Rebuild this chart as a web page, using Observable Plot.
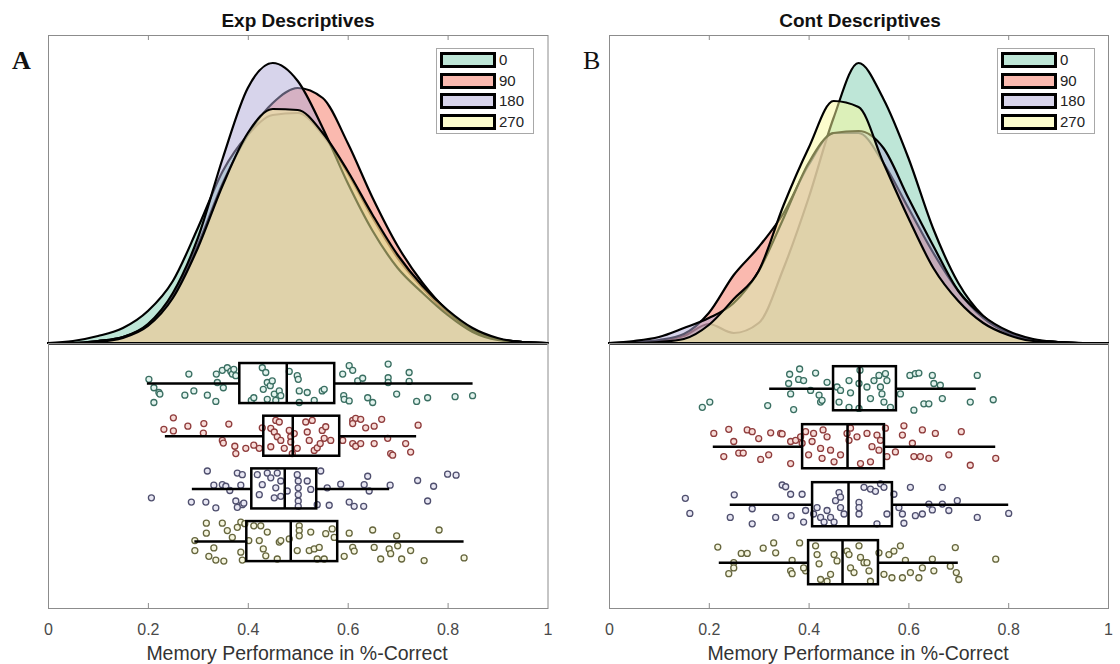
<!DOCTYPE html>
<html>
<head>
<meta charset="utf-8">
<script src="https://cdn.jsdelivr.net/npm/d3@7"></script>
<script src="https://cdn.jsdelivr.net/npm/@observablehq/plot@0.6"></script>
<style>
  body { margin: 0; background: #fff; font-family: "Liberation Sans", Arial, sans-serif; }
  #chart { position: relative; width: 1120px; height: 664px; overflow: hidden; background: #fff; }
  #chart svg { position: absolute; }
  .title { position: absolute; font-weight: bold; font-size: 19px; color: #111; white-space: nowrap; transform: translateX(-50%); line-height: 19px; }
  .xlabel { position: absolute; font-size: 19.5px; color: #333; white-space: nowrap; transform: translateX(-50%); line-height: 19px; }
  .letter { position: absolute; font-family: "Liberation Serif", "DejaVu Serif", serif; font-size: 26px; color: #111; line-height: 26px; }
  .legend { position: absolute; border: 1px solid #a8a8a8; background: #fff; box-sizing: border-box; }
  .legend .row { position: absolute; left: 3px; height: 16px; display: flex; align-items: center; }
  .legend .sw { width: 56px; height: 16px; box-sizing: border-box; border: 3px solid #000; }
  .legend .lab { margin-left: 3px; font-size: 15px; color: #222; line-height: 16px; }
</style>
</head>
<body>
<div id="chart"></div>
<script>
// Conditions (rotation in degrees)
const groups = ["0", "90", "180", "270"];
const xTickValues = [0, 0.2, 0.4, 0.6, 0.8, 1];
const innerTickValues = [0.2, 0.4, 0.6, 0.8];

// Kernel density estimates sampled on a regular grid
const densityGrid = [0, 0.05, 0.1, 0.15, 0.2, 0.25, 0.3, 0.35, 0.4, 0.45, 0.5, 0.55, 0.6, 0.65, 0.7, 0.75, 0.8, 0.85, 0.9, 0.95, 1];

const expDensity0   = [0, 0.02, 0.07, 0.15, 0.32, 0.62, 1.15, 1.72, 2.08, 2.28, 2.30, 2.08, 1.70, 1.25, 0.85, 0.55, 0.30, 0.13, 0.04, 0.01, 0];
const expDensity90  = [0, 0, 0.02, 0.06, 0.18, 0.48, 0.98, 1.60, 2.08, 2.40, 2.55, 2.45, 2.00, 1.45, 0.97, 0.60, 0.32, 0.13, 0.04, 0.01, 0];
const expDensity180 = [0, 0, 0.02, 0.06, 0.19, 0.50, 1.05, 1.85, 2.55, 2.80, 2.62, 2.15, 1.60, 1.12, 0.75, 0.50, 0.28, 0.11, 0.03, 0.01, 0];
const expDensity270 = [0, 0, 0.01, 0.05, 0.17, 0.45, 0.95, 1.58, 2.10, 2.34, 2.33, 2.10, 1.72, 1.28, 0.88, 0.57, 0.33, 0.15, 0.05, 0.01, 0];

const contDensity0   = [0, 0, 0.02, 0.07, 0.19, 0.10, 0.20, 0.75, 1.45, 2.25, 2.80, 2.44, 1.85, 1.14, 0.60, 0.27, 0.11, 0.03, 0.01, 0, 0];
const contDensity90  = [0, 0.01, 0.03, 0.09, 0.30, 0.68, 0.96, 1.30, 1.78, 2.10, 2.10, 1.80, 1.35, 0.90, 0.52, 0.25, 0.10, 0.03, 0.01, 0, 0];
const contDensity180 = [0, 0.02, 0.06, 0.15, 0.25, 0.40, 0.72, 1.25, 1.80, 2.10, 2.12, 1.95, 1.45, 0.97, 0.52, 0.27, 0.12, 0.04, 0.01, 0, 0];
const contDensity270 = [0, 0, 0.01, 0.04, 0.18, 0.44, 0.72, 1.38, 1.95, 2.42, 2.36, 1.80, 1.25, 0.75, 0.42, 0.20, 0.08, 0.02, 0.01, 0, 0];

// Box plot summaries: [lower whisker, Q1, median, Q3, upper whisker]
const expBoxes = [
  [0.198, 0.383, 0.477, 0.573, 0.850],
  [0.234, 0.431, 0.489, 0.583, 0.737],
  [0.288, 0.407, 0.473, 0.537, 0.683],
  [0.293, 0.397, 0.485, 0.579, 0.832]
];
const contBoxes = [
  [0.321, 0.449, 0.501, 0.575, 0.735],
  [0.208, 0.387, 0.477, 0.551, 0.774],
  [0.242, 0.407, 0.479, 0.567, 0.800],
  [0.220, 0.399, 0.467, 0.539, 0.699]
];

// Individual participants: [proportion correct, vertical jitter within the row]
const expDots0 = [[0.201,-0.08],[0.211,0.08],[0.221,0.17],[0.223,0.20],[0.211,0.36],[0.281,-0.18],[0.273,0.22],[0.291,0.14],[0.318,0.22],[0.335,0.34],[0.336,-0.18],[0.338,-0.02],[0.348,-0.25],[0.350,0.08],[0.358,-0.30],[0.365,-0.23],[0.368,-0.18],[0.371,-0.27],[0.375,-0.15],[0.406,0.32],[0.411,0.27],[0.428,-0.30],[0.435,-0.21],[0.430,0.11],[0.438,-0.02],[0.444,0.04],[0.448,-0.05],[0.438,0.30],[0.452,0.20],[0.455,0.32],[0.462,0.14],[0.465,0.23],[0.482,-0.23],[0.498,-0.15],[0.500,-0.08],[0.502,0.14],[0.502,0.36],[0.518,0.17],[0.532,0.32],[0.548,0.14],[0.552,0.11],[0.589,-0.18],[0.591,0.23],[0.602,-0.34],[0.609,-0.25],[0.592,0.30],[0.602,0.33],[0.619,-0.05],[0.629,-0.10],[0.639,0.27],[0.649,0.36],[0.680,-0.37],[0.680,-0.11],[0.680,-0.02],[0.697,0.20],[0.722,-0.21],[0.722,-0.04],[0.737,0.34],[0.759,0.27],[0.814,0.25],[0.849,0.23]];
const expDots90 = [[0.250,-0.35],[0.231,-0.13],[0.250,-0.10],[0.279,-0.19],[0.311,-0.24],[0.310,-0.06],[0.361,-0.23],[0.348,0.08],[0.350,0.13],[0.373,0.19],[0.375,0.33],[0.395,0.23],[0.411,0.17],[0.422,0.23],[0.428,-0.16],[0.445,-0.15],[0.452,-0.08],[0.455,-0.30],[0.462,-0.27],[0.458,0.01],[0.465,0.08],[0.445,0.20],[0.472,0.23],[0.482,-0.11],[0.485,0.01],[0.485,0.11],[0.492,-0.05],[0.488,0.33],[0.498,0.23],[0.515,-0.27],[0.518,-0.08],[0.522,0.08],[0.528,-0.30],[0.532,0.27],[0.538,0.22],[0.544,0.14],[0.548,-0.11],[0.552,0.04],[0.555,-0.18],[0.565,0.08],[0.589,0.08],[0.609,-0.30],[0.615,-0.34],[0.625,-0.32],[0.609,-0.24],[0.609,0.14],[0.615,0.19],[0.625,0.14],[0.635,-0.16],[0.652,-0.19],[0.667,-0.32],[0.652,0.14],[0.679,0.04],[0.685,0.33],[0.689,0.36],[0.715,0.14],[0.725,0.30],[0.740,-0.21]];
const expDots180 = [[0.206,0.17],[0.286,0.25],[0.315,0.25],[0.318,-0.34],[0.335,0.36],[0.331,-0.07],[0.348,-0.08],[0.355,-0.05],[0.363,0.03],[0.375,0.23],[0.378,-0.30],[0.388,-0.27],[0.385,-0.07],[0.388,0.30],[0.378,0.35],[0.391,0.27],[0.418,-0.27],[0.422,0.11],[0.428,-0.08],[0.438,-0.30],[0.445,-0.21],[0.452,0.17],[0.455,-0.02],[0.458,-0.30],[0.465,-0.15],[0.465,0.14],[0.478,0.04],[0.498,-0.27],[0.500,-0.15],[0.500,-0.02],[0.500,0.11],[0.500,0.23],[0.500,0.33],[0.518,-0.15],[0.525,0.01],[0.538,0.30],[0.545,-0.34],[0.558,-0.02],[0.562,0.31],[0.585,-0.09],[0.602,0.25],[0.612,0.33],[0.631,0.33],[0.632,-0.08],[0.639,-0.24],[0.642,0.04],[0.684,-0.07],[0.739,-0.16],[0.759,0.23],[0.771,-0.05],[0.799,-0.28],[0.816,-0.26]];
const expDots270 = [[0.293,-0.02],[0.293,0.17],[0.316,-0.35],[0.316,-0.16],[0.331,0.12],[0.321,0.28],[0.335,0.35],[0.351,0.37],[0.348,-0.35],[0.358,-0.21],[0.368,-0.08],[0.378,-0.27],[0.385,-0.37],[0.385,0.20],[0.388,0.35],[0.393,-0.34],[0.401,-0.02],[0.411,-0.30],[0.422,-0.02],[0.425,-0.30],[0.430,0.14],[0.435,0.27],[0.438,-0.18],[0.458,0.33],[0.462,0.01],[0.465,-0.02],[0.482,-0.05],[0.502,-0.30],[0.502,-0.21],[0.502,-0.11],[0.498,0.17],[0.522,0.17],[0.525,-0.18],[0.532,0.14],[0.538,0.33],[0.542,0.11],[0.552,0.33],[0.555,-0.15],[0.568,-0.24],[0.572,-0.08],[0.592,0.28],[0.602,-0.16],[0.609,0.11],[0.612,0.18],[0.649,-0.22],[0.652,0.11],[0.665,0.33],[0.682,0.14],[0.685,0.23],[0.697,-0.11],[0.699,0.08],[0.707,0.33],[0.725,0.17],[0.752,0.36],[0.782,-0.22],[0.832,0.31]];

const contDots0 = [[0.186,0.32],[0.201,0.23],[0.317,0.29],[0.369,0.36],[0.361,-0.25],[0.359,-0.09],[0.363,0.09],[0.381,-0.34],[0.379,-0.16],[0.389,-0.14],[0.403,0.03],[0.413,-0.27],[0.420,0.11],[0.423,0.23],[0.436,-0.11],[0.426,0.20],[0.456,-0.03],[0.463,0.03],[0.460,0.23],[0.480,-0.14],[0.483,0.07],[0.480,0.32],[0.500,-0.09],[0.502,-0.32],[0.500,0.34],[0.516,-0.03],[0.523,0.17],[0.530,-0.14],[0.540,-0.23],[0.543,-0.03],[0.546,0.09],[0.550,0.23],[0.553,-0.26],[0.556,-0.14],[0.563,0.32],[0.583,0.09],[0.602,-0.23],[0.610,0.37],[0.613,-0.26],[0.620,-0.27],[0.630,0.26],[0.640,0.26],[0.647,-0.23],[0.650,-0.09],[0.663,-0.06],[0.667,0.17],[0.737,-0.23],[0.723,0.23],[0.769,0.19]];
const contDots90 = [[0.209,-0.23],[0.239,-0.30],[0.229,0.17],[0.249,-0.09],[0.259,0.11],[0.268,0.11],[0.276,-0.29],[0.286,-0.26],[0.299,-0.14],[0.303,0.22],[0.319,0.14],[0.323,-0.24],[0.343,-0.23],[0.346,-0.22],[0.363,-0.09],[0.363,0.29],[0.373,-0.11],[0.383,-0.17],[0.386,-0.06],[0.393,-0.26],[0.399,0.14],[0.406,-0.09],[0.409,-0.23],[0.423,0.03],[0.428,-0.29],[0.426,0.20],[0.436,-0.17],[0.443,0.06],[0.450,0.26],[0.463,0.14],[0.476,-0.23],[0.480,-0.11],[0.483,-0.32],[0.496,-0.17],[0.503,0.29],[0.516,-0.23],[0.523,0.26],[0.526,0.00],[0.536,-0.20],[0.540,0.06],[0.543,-0.11],[0.553,-0.32],[0.556,0.17],[0.573,0.09],[0.587,-0.20],[0.590,-0.36],[0.607,-0.06],[0.610,0.17],[0.623,0.17],[0.627,-0.29],[0.640,0.20],[0.653,-0.23],[0.680,0.14],[0.705,-0.26],[0.723,0.32],[0.774,0.20]];
const contDots180 = [[0.152,-0.11],[0.161,0.15],[0.242,0.22],[0.250,-0.17],[0.286,0.07],[0.286,0.33],[0.333,0.22],[0.346,-0.34],[0.353,-0.31],[0.363,-0.18],[0.364,0.19],[0.386,-0.18],[0.389,0.30],[0.393,0.10],[0.409,0.16],[0.416,0.05],[0.423,0.22],[0.430,0.30],[0.436,0.10],[0.443,0.22],[0.450,0.30],[0.453,-0.07],[0.460,-0.21],[0.463,-0.13],[0.463,0.05],[0.470,0.16],[0.500,-0.04],[0.500,0.05],[0.500,0.16],[0.510,-0.30],[0.523,-0.27],[0.533,-0.23],[0.536,0.33],[0.543,-0.36],[0.550,-0.30],[0.556,0.16],[0.570,-0.18],[0.580,0.05],[0.587,0.16],[0.590,0.32],[0.603,-0.30],[0.613,0.19],[0.627,0.16],[0.640,-0.01],[0.647,0.09],[0.667,-0.30],[0.667,-0.01],[0.680,0.10],[0.697,-0.07],[0.737,0.22],[0.800,0.15]];
const contDots270 = [[0.217,-0.27],[0.239,0.19],[0.249,0.00],[0.249,0.09],[0.264,-0.16],[0.276,-0.16],[0.308,-0.25],[0.329,-0.34],[0.333,-0.17],[0.366,-0.04],[0.363,0.14],[0.366,0.19],[0.381,-0.34],[0.393,0.14],[0.389,0.09],[0.413,-0.29],[0.416,-0.14],[0.420,0.02],[0.423,0.29],[0.436,0.32],[0.443,0.20],[0.450,-0.14],[0.456,-0.03],[0.476,-0.20],[0.480,-0.14],[0.483,0.09],[0.490,0.17],[0.500,-0.29],[0.503,-0.09],[0.510,0.00],[0.516,0.00],[0.520,0.14],[0.523,0.32],[0.540,-0.17],[0.550,0.20],[0.560,-0.14],[0.566,0.26],[0.570,-0.20],[0.583,-0.29],[0.587,0.26],[0.593,-0.04],[0.603,0.17],[0.620,0.26],[0.627,0.09],[0.647,-0.06],[0.650,0.14],[0.683,0.06],[0.693,-0.26],[0.695,0.17],[0.700,0.29],[0.774,-0.06]];

// Styling
const fillColors = ["#7dcdaf", "#f5735f", "#afa9d7", "#f9f99b"];
const swatchColors = ["rgba(125,205,175,0.5)", "rgba(245,115,95,0.5)", "rgba(175,169,215,0.5)", "rgba(249,249,155,0.5)"];
const dotStroke = ["#3a6f62", "#8f3c3c", "#4f4f6e", "#66663e"];
const dotFill = ["#e3f3ee", "#f7dcd8", "#e8e7f3", "#f6f6e0"];
const frameGray = "#8c8c8c";
const boxHalf = 0.38;
const fontFamily = '"Liberation Sans", Arial, sans-serif';

const chart = document.getElementById("chart");

function densityRows(series) {
  return series.flatMap((vals, gi) => vals.map((d, i) => ({g: groups[gi], x: densityGrid[i], d})));
}
function dotRows(sets) {
  return sets.flatMap((pts, row) => pts.map(([v, j]) => ({row, v, j})));
}
function boxRows(boxes) {
  return boxes.map(([lo, q1, med, q3, hi], row) => ({row, lo, q1, med, q3, hi}));
}

function panel({left, marginLeft, marginRight, density, dots, boxes, yDomain, title, titleX, letter, letterX, letterBold, legendX, labelX}) {
  const W = 560;
  // Overlaid (not stacked) densities, drawn in condition order
  const top = Plot.plot({
    width: W, height: 346,
    marginLeft, marginRight, marginTop: 35, marginBottom: 3,
    x: {domain: [0, 1], axis: null},
    y: {domain: [0, 3.08], axis: null},
    color: {domain: groups, range: fillColors},
    style: {background: "transparent", overflow: "visible"},
    marks: [
      Plot.frame({stroke: frameGray}),
      Plot.area(densityRows(density), {x1: "x", y1: 0, y2: "d", z: "g", fill: "g", fillOpacity: 0.5, stroke: "#000", strokeWidth: 2.2, curve: "monotone-x"}),
      Plot.ruleY([0], {stroke: "#000", strokeWidth: 2.5}),
      Plot.tickX(innerTickValues, {x: d => d, insetBottom: 303, stroke: frameGray})
    ]
  });
  top.style.left = left + "px";
  top.style.top = "0px";
  chart.appendChild(top);

  const bottom = Plot.plot({
    width: W, height: 321,
    marginLeft, marginRight, marginTop: 0, marginBottom: 56,
    x: {domain: [0, 1], ticks: xTickValues, tickSize: 0, tickPadding: 15, tickFormat: d => String(d), label: null},
    y: {domain: yDomain, reverse: true, axis: null},
    color: {type: "identity"},
    style: {background: "transparent", overflow: "visible", fontSize: "16px", fontFamily, color: "#4a4a4a"},
    marks: [
      Plot.frame({stroke: frameGray}),
      Plot.tickX(innerTickValues, {x: d => d, insetTop: 260, stroke: frameGray}),
      Plot.dot(dotRows(dots), {x: "v", y: d => d.row + d.j, r: 3, stroke: d => dotStroke[d.row], fill: d => dotFill[d.row], strokeWidth: 1.3}),
      Plot.ruleY(boxRows(boxes), {y: "row", x1: "lo", x2: "q1", stroke: "#000", strokeWidth: 2.5}),
      Plot.ruleY(boxRows(boxes), {y: "row", x1: "q3", x2: "hi", stroke: "#000", strokeWidth: 2.5}),
      Plot.rect(boxRows(boxes), {x1: "q1", x2: "q3", y1: d => d.row - boxHalf, y2: d => d.row + boxHalf, fill: "none", stroke: "#000", strokeWidth: 2.5}),
      Plot.ruleX(boxRows(boxes), {x: "med", y1: d => d.row - boxHalf, y2: d => d.row + boxHalf, stroke: "#000", strokeWidth: 2.5})
    ]
  });
  bottom.style.left = left + "px";
  bottom.style.top = "343px";
  chart.appendChild(bottom);

  const t = document.createElement("div");
  t.className = "title";
  t.textContent = title;
  t.style.left = titleX + "px";
  t.style.top = "11px";
  chart.appendChild(t);

  const xl = document.createElement("div");
  xl.className = "xlabel";
  xl.textContent = "Memory Performance in %-Correct";
  xl.style.left = labelX + "px";
  xl.style.top = "644px";
  chart.appendChild(xl);

  const L = document.createElement("div");
  L.className = "letter";
  L.textContent = letter;
  L.style.left = letterX + "px";
  L.style.top = "48px";
  L.style.fontWeight = letterBold ? "bold" : "normal";
  chart.appendChild(L);

  const lg = document.createElement("div");
  lg.className = "legend";
  lg.style.left = legendX + "px";
  lg.style.top = "48px";
  lg.style.width = "98px";
  lg.style.height = "86px";
  groups.forEach((g, i) => {
    const r = document.createElement("div");
    r.className = "row";
    r.style.top = (3 + i * 20.5) + "px";
    const sw = document.createElement("div");
    sw.className = "sw";
    sw.style.background = swatchColors[i];
    const lab = document.createElement("span");
    lab.className = "lab";
    lab.textContent = g;
    r.appendChild(sw);
    r.appendChild(lab);
    lg.appendChild(r);
  });
  chart.appendChild(lg);
}

panel({
  left: 0, marginLeft: 48, marginRight: 12.5,
  density: [expDensity0, expDensity90, expDensity180, expDensity270],
  dots: [expDots0, expDots90, expDots180, expDots270],
  boxes: expBoxes,
  yDomain: [-0.76, 4.27],
  title: "Exp Descriptives", titleX: 298,
  letter: "A", letterX: 12, letterBold: true,
  legendX: 436, labelX: 297
});

panel({
  left: 560, marginLeft: 49, marginRight: 12,
  density: [contDensity0, contDensity90, contDensity180, contDensity270],
  dots: [contDots0, contDots90, contDots180, contDots270],
  boxes: contBoxes,
  yDomain: [-0.78, 3.79],
  title: "Cont Descriptives", titleX: 860,
  letter: "B", letterX: 583, letterBold: false,
  legendX: 997, labelX: 858
});
</script>
</body>
</html>
